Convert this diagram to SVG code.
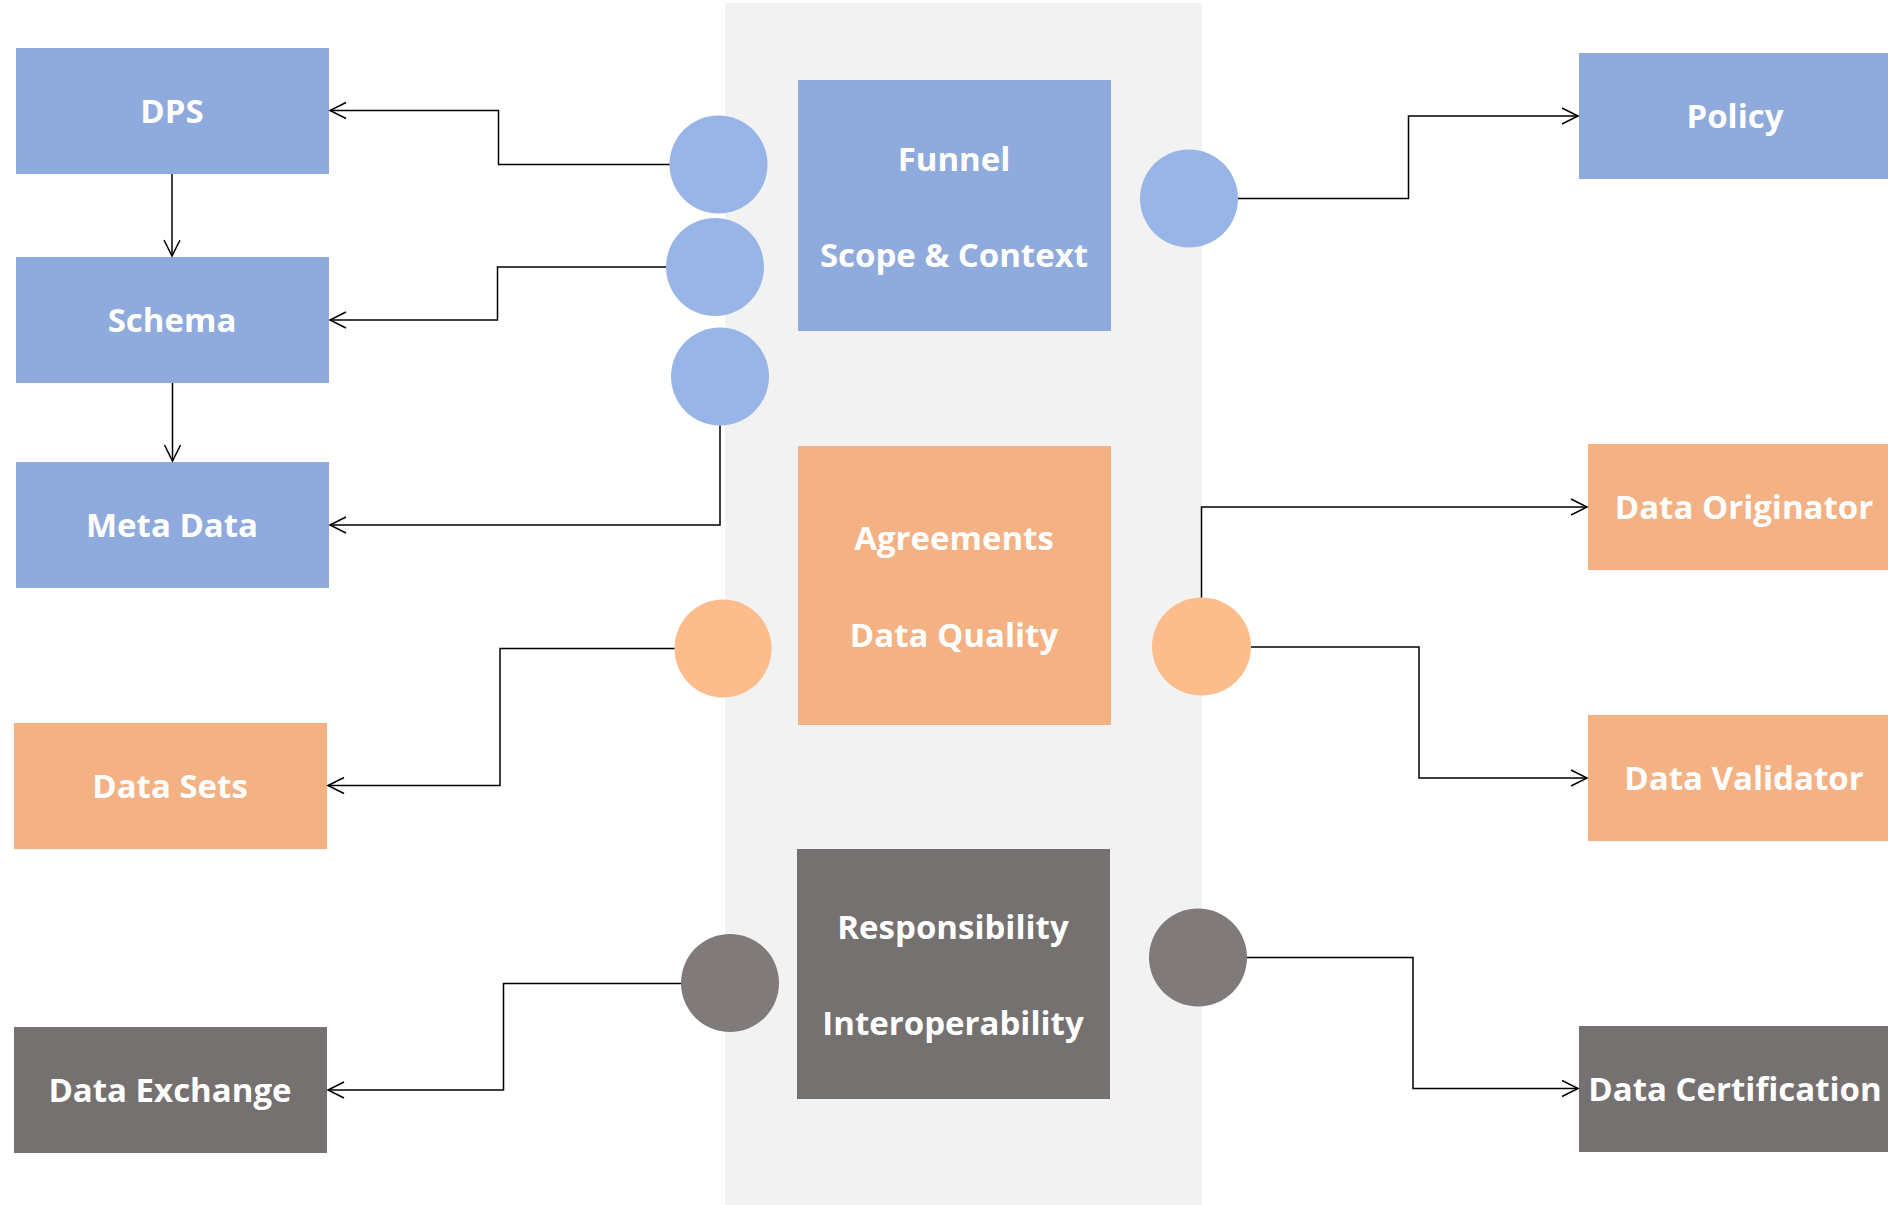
<svg xmlns="http://www.w3.org/2000/svg" width="1888" height="1205" viewBox="0 0 1888 1205">
<defs>
<marker id="arr" markerWidth="20" markerHeight="20" viewBox="0 0 20 20" refX="18" refY="10" orient="auto" markerUnits="userSpaceOnUse">
<path d="M2,2 L18,10 L2,18" fill="none" stroke="#000" stroke-width="1.5"/>
</marker>
</defs>
<style>
.blue{fill:#8FAADC}
.orange{fill:#F4B183}
.grey{fill:#767171}
.cblue{fill:#99B5E8}
.corange{fill:#FDBC8C}
.cgrey{fill:#807B7A}
text{font-family:"Open Sans","Liberation Sans",sans-serif;font-weight:700;font-size:33px;fill:#fff;text-anchor:middle;dominant-baseline:central}
.conn path{fill:none;stroke:#000;stroke-width:1.5;marker-end:url(#arr)}
</style>
<rect x="0" y="0" width="1888" height="1205" fill="#fff"/>
<rect id="panel" x="725" y="3" width="477" height="1202" fill="#F2F2F2"/>

<g id="dps"><rect class="blue" x="16" y="48" width="313" height="126"/><text x="172" y="110">DPS</text></g>
<g id="schema"><rect class="blue" x="16" y="257" width="313" height="126"/><text x="172" y="319">Schema</text></g>
<g id="metadata"><rect class="blue" x="16" y="462" width="313" height="126"/><text x="172" y="524">Meta Data</text></g>
<g id="datasets"><rect class="orange" x="14" y="723" width="313" height="126"/><text x="170" y="785">Data Sets</text></g>
<g id="dataexchange"><rect class="grey" x="14" y="1027" width="313" height="126"/><text x="170" y="1089">Data Exchange</text></g>

<g id="funnel"><rect class="blue" x="798" y="80" width="313" height="251"/><text x="954" y="158">Funnel</text><text x="954" y="254">Scope &amp; Context</text></g>
<g id="agreements"><rect class="orange" x="798" y="446" width="313" height="279"/><text x="954" y="537">Agreements</text><text x="954" y="634">Data Quality</text></g>
<g id="responsibility"><rect class="grey" x="797" y="849" width="313" height="250"/><text x="953" y="926">Responsibility</text><text x="953" y="1022">Interoperability</text></g>

<g id="policy"><rect class="blue" x="1579" y="53" width="313" height="126"/><text x="1735" y="115">Policy</text></g>
<g id="dataoriginator"><rect class="orange" x="1588" y="444" width="313" height="126"/><text x="1744" y="506">Data Originator</text></g>
<g id="datavalidator"><rect class="orange" x="1588" y="715" width="313" height="126"/><text x="1744" y="777">Data Validator</text></g>
<g id="datacertification"><rect class="grey" x="1579" y="1026" width="313" height="126"/><text x="1735" y="1088">Data Certification</text></g>

<g id="c1"><ellipse class="cblue" cx="718.5" cy="164.5" rx="49" ry="49"/></g>
<g id="c2"><ellipse class="cblue" cx="715" cy="267" rx="49" ry="49"/></g>
<g id="c3"><ellipse class="cblue" cx="720" cy="376.5" rx="49" ry="49"/></g>
<g id="c4"><ellipse class="corange" cx="723" cy="648.5" rx="48.5" ry="49"/></g>
<g id="c5"><ellipse class="cgrey" cx="730" cy="983" rx="49" ry="49"/></g>
<g id="c6"><ellipse class="cblue" cx="1189" cy="198.5" rx="49" ry="49"/></g>
<g id="c7"><ellipse class="corange" cx="1201.5" cy="646.5" rx="49.5" ry="49"/></g>
<g id="c8"><ellipse class="cgrey" cx="1198" cy="957.5" rx="49" ry="49"/></g>

<g id="connectors" class="conn">
<path d="M669.5,164.5 H498.5 V110.5 H330"/>
<path d="M666,267 H497.5 V320 H330"/>
<path d="M720,425.5 V525 H330"/>
<path d="M172,174 V256"/>
<path d="M172.5,383 V461"/>
<path d="M674.5,648.5 H500 V785.5 H328"/>
<path d="M681,983.5 H503.5 V1090 H328"/>
<path d="M1238,198.5 H1408.5 V116 H1578"/>
<path d="M1201.5,597.5 V507 H1587"/>
<path d="M1251,647 H1419 V778 H1587"/>
<path d="M1247,957.5 H1413 V1088.5 H1578"/>
</g>
</svg>
